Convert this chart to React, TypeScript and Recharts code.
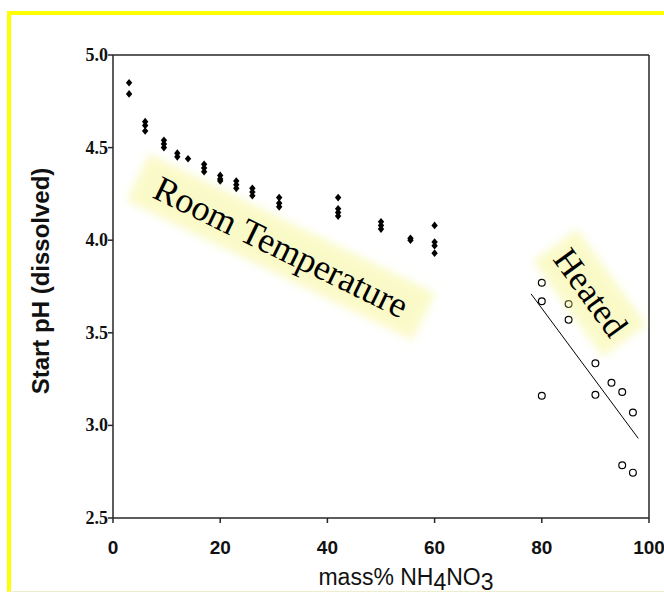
import React from "react"
import { ScatterChart, Scatter, XAxis, YAxis, ReferenceLine } from "recharts"

// room temperature samples (filled diamonds)
const roomX = [3, 3, 6, 6, 6, 9.5, 9.5, 9.5, 12, 12, 14, 17, 17, 17, 20, 20, 20, 23, 23, 23, 26, 26, 26, 31, 31, 31, 42, 42, 42, 42, 50, 50, 50, 55.5, 55.5, 60, 60, 60, 60]
const roomPH = [4.85, 4.79, 4.64, 4.62, 4.59, 4.54, 4.52, 4.5, 4.47, 4.45, 4.44, 4.41, 4.39, 4.37, 4.35, 4.33, 4.32, 4.32, 4.3, 4.28, 4.28, 4.26, 4.24, 4.23, 4.2, 4.18, 4.23, 4.17, 4.15, 4.13, 4.1, 4.08, 4.06, 4.01, 4.0, 4.08, 3.99, 3.97, 3.93]

// heated samples (open circles)
const heatedX = [80, 80, 85, 85, 90, 80, 90, 93, 95, 97, 95, 97]
const heatedPH = [3.77, 3.67, 3.655, 3.57, 3.335, 3.16, 3.165, 3.23, 3.18, 3.07, 2.785, 2.745]

// trend line through heated data
const trendX = [78, 98]
const trendPH = [3.71, 2.93]

const xTicks = [0, 20, 40, 60, 80, 100]
const yTicks = [2.5, 3, 3.5, 4, 4.5, 5]

const roomData = roomX.map((x, i) => ({ x, y: roomPH[i] }))
const heatedData = heatedX.map((x, i) => ({ x, y: heatedPH[i] }))
const trendSegment = trendX.map((x, i) => ({ x, y: trendPH[i] }))

const axisColor = "#262626"
const sans = "Liberation Sans, Arial, sans-serif"
const serif = "Liberation Serif, Times New Roman, serif"

const Diamond = ({ cx, cy }: any) => (
  <polygon points={`${cx},${cy - 3.8} ${cx + 3.2},${cy} ${cx},${cy + 3.8} ${cx - 3.2},${cy}`} fill="#000" />
)

const OpenCircle = ({ cx, cy }: any) => <circle cx={cx} cy={cy} r={3.4} fill="#fff" stroke="#000" strokeWidth={1.2} />

const XTick = ({ x, y, payload }: any) => (
  <text x={x} y={y + 29} textAnchor="middle" fontFamily={sans} fontWeight="bold" fontSize={19} fill="#111">
    {payload.value}
  </text>
)

const YTick = ({ x, y, payload }: any) => (
  <text x={x + 2} y={y + 6} textAnchor="end" fontFamily={serif} fontWeight="bold" fontSize={18} fill="#111">
    {Number(payload.value).toFixed(1)}
  </text>
)

const YTitle = () => (
  <text
    x={40}
    y={281}
    transform="rotate(-90 40 281)"
    textAnchor="middle"
    dominantBaseline="central"
    fontFamily={sans}
    fontWeight="bold"
    fontSize={24}
    fill="#111"
  >
    Start pH (dissolved)
  </text>
)

const XTitle = () => (
  <text x={406} y={585} textAnchor="middle" fontFamily={sans} fontSize={23} fill="#111">
    mass% NH
    <tspan dy={5}>4</tspan>
    <tspan dy={-5}>NO</tspan>
    <tspan dy={5}>3</tspan>
  </text>
)

function Highlight({ cx, cy, w, h, angle, size, text }: { cx: number; cy: number; w: number; h: number; angle: number; size: number; text: string }) {
  return (
    <>
      <div
        style={{
          position: "absolute",
          left: cx - w / 2,
          top: cy - h / 2,
          width: w,
          height: h,
          transform: `rotate(${angle}deg)`,
          background: "rgba(242, 242, 120, 0.4)",
          filter: "blur(4px)",
        }}
      />
      <div
        style={{
          position: "absolute",
          left: cx - 200,
          top: cy - 25,
          width: 400,
          height: 50,
          lineHeight: "50px",
          textAlign: "center",
          transform: `rotate(${angle}deg)`,
          fontFamily: serif,
          fontSize: size,
          color: "#000",
          whiteSpace: "nowrap",
        }}
      >
        {text}
      </div>
    </>
  )
}

export default function App() {
  return (
    <div style={{ position: "absolute", left: 0, top: 0, width: 664, height: 594, background: "#fff", overflow: "hidden" }}>
      <div
        style={{
          position: "absolute",
          left: 7,
          top: 11,
          right: -10,
          bottom: 2,
          borderTop: "4px solid #ffff00",
          borderLeft: "4px solid #ffff00",
          borderBottom: "1px solid #eeeecc",
        }}
      />
      <div style={{ position: "absolute", left: 0, top: 0 }}>
        <ScatterChart width={664} height={594} margin={{ top: 55, right: 15, bottom: 36, left: 0 }}>
          <XAxis
            type="number"
            dataKey="x"
            domain={[0, 100]}
            ticks={xTicks}
            height={40}
            stroke={axisColor}
            strokeWidth={1.5}
            tickSize={5}
            tick={<XTick />}
            label={<XTitle />}
          />
          <YAxis
            type="number"
            dataKey="y"
            domain={[2.5, 5]}
            ticks={yTicks}
            width={113}
            stroke={axisColor}
            strokeWidth={1.5}
            tickSize={5}
            tick={<YTick />}
            label={<YTitle />}
          />
          <ReferenceLine y={5} stroke={axisColor} strokeWidth={1.5} />
          <ReferenceLine x={100} stroke={axisColor} strokeWidth={1.5} />
          <ReferenceLine segment={trendSegment} stroke="#000" strokeWidth={1} />
          <Scatter data={roomData} shape={<Diamond />} isAnimationActive={false} />
          <Scatter data={heatedData} shape={<OpenCircle />} isAnimationActive={false} />
        </ScatterChart>
      </div>
      <Highlight cx={281} cy={247} w={318} h={52} angle={26} size={36} text="Room Temperature" />
      <Highlight cx={590} cy={293} w={118} h={54} angle={54} size={35} text="Heated" />
    </div>
  )
}
